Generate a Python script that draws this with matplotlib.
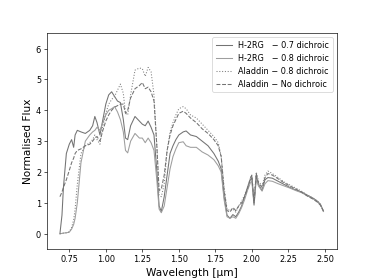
import numpy as np
import matplotlib
matplotlib.use("Agg")
import matplotlib.pyplot as plt

# wavelength grid (micron)
wl = [0.686, 0.70, 0.71, 0.73, 0.75, 0.766, 0.78, 0.79, 0.805, 0.83,
      0.86, 0.89, 0.91, 0.925, 0.94, 0.96, 0.98, 1.00, 1.02, 1.04,
      1.06, 1.08, 1.10, 1.12, 1.135, 1.15, 1.17, 1.20, 1.23, 1.25,
      1.27, 1.29, 1.31, 1.33, 1.35, 1.365, 1.38, 1.40, 1.42, 1.44,
      1.46, 1.48, 1.50, 1.53, 1.55, 1.58, 1.62, 1.66, 1.70, 1.74,
      1.77, 1.79, 1.81, 1.83, 1.85, 1.87, 1.89, 1.91, 1.93, 1.95,
      1.97, 1.99, 2.00, 2.015, 2.03, 2.045, 2.07, 2.09, 2.11, 2.14,
      2.18, 2.22, 2.26, 2.30, 2.34, 2.38, 2.42, 2.45, 2.47, 2.49]

h2rg_07 = [0.0, 0.6, 1.5, 2.6, 2.9, 3.05, 2.8, 3.2, 3.35, 3.3,
           3.25, 3.35, 3.5, 3.8, 3.6, 3.2, 3.7, 4.2, 4.5, 4.6,
           4.45, 4.3, 4.25, 3.7, 3.1, 3.05, 3.5, 3.8, 3.65, 3.55,
           3.5, 3.65, 3.45, 3.2, 2.0, 0.9, 0.72, 1.2, 1.9, 2.6,
           2.85, 3.05, 3.2, 3.3, 3.33, 3.2, 3.15, 3.0, 2.85, 2.6,
           2.35, 2.1, 1.2, 0.6, 0.5, 0.62, 0.55, 0.7, 0.9, 1.2,
           1.5, 1.75, 1.8, 0.95, 1.85, 1.6, 1.4, 1.75, 1.82, 1.8,
           1.7, 1.6, 1.5, 1.42, 1.35, 1.25, 1.15, 1.05, 0.95, 0.73]

h2rg_08 = [0.0, 0.01, 0.02, 0.03, 0.05, 0.15, 0.3, 0.5, 1.0, 2.3,
           3.0, 3.2, 3.3, 3.35, 3.45, 3.35, 3.6, 3.85, 4.0, 4.05,
           4.12, 3.95, 3.7, 3.3, 2.7, 2.62, 3.0, 3.25, 3.1, 3.1,
           2.95, 3.1, 2.95, 2.7, 1.7, 0.8, 0.68, 0.9, 1.5, 2.1,
           2.5, 2.75, 2.95, 2.98, 2.85, 2.8, 2.8, 2.65, 2.55, 2.4,
           2.2, 2.0, 1.1, 0.55, 0.5, 0.55, 0.5, 0.65, 0.85, 1.1,
           1.4, 1.65, 1.7, 0.92, 1.75, 1.55, 1.38, 1.62, 1.72, 1.7,
           1.62, 1.55, 1.48, 1.4, 1.33, 1.23, 1.13, 1.03, 0.93, 0.72]

aladdin_08 = [0.0, 0.01, 0.02, 0.03, 0.06, 0.2, 0.45, 0.8, 1.6, 2.6,
              2.85, 2.95, 3.05, 3.2, 3.05, 2.9, 3.5, 3.9, 4.2, 4.35,
              4.45, 4.65, 4.85, 4.55, 3.9, 3.85, 4.5, 5.3, 5.37, 5.35,
              5.1, 5.39, 5.25, 4.5, 2.8, 1.25, 1.2, 1.6, 2.7, 3.3,
              3.6, 3.85, 4.05, 4.12, 4.05, 3.85, 3.75, 3.55, 3.35, 3.15,
              2.95, 2.5, 1.5, 0.8, 0.75, 0.8, 0.7, 0.9, 1.05, 1.25,
              1.5, 1.8, 1.9, 1.05, 2.0, 1.7, 1.55, 1.9, 2.03, 1.95,
              1.82, 1.68, 1.58, 1.48, 1.38, 1.25, 1.15, 1.05, 0.95, 0.73]

aladdin_none = [1.2, 1.35, 1.5, 1.75, 2.05, 2.3, 2.45, 2.6, 2.7, 2.75,
                2.85, 2.9, 3.0, 3.1, 3.15, 3.0, 3.35, 3.65, 3.85, 4.0,
                4.1, 4.15, 4.2, 4.2, 3.9, 4.0, 4.4, 4.7, 4.8, 4.9,
                4.7, 4.75, 4.6, 4.3, 2.8, 1.4, 1.45, 1.9, 2.7, 3.2,
                3.5, 3.7, 3.9, 3.97, 3.9, 3.75, 3.6, 3.4, 3.25, 3.05,
                2.85, 2.5, 1.4, 0.75, 0.7, 0.85, 0.75, 0.9, 1.0, 1.2,
                1.45, 1.8, 1.9, 1.0, 1.95, 1.65, 1.5, 1.82, 1.95, 1.9,
                1.78, 1.65, 1.55, 1.45, 1.35, 1.22, 1.12, 1.02, 0.92, 0.74]

fig = plt.figure(figsize=(6.4, 4.8), dpi=374/6.4)
ax = fig.add_subplot(111)
ax.plot(wl, h2rg_07, color="0.45", lw=1.3, label="H-2RG   \u2212 0.7 dichroic")
ax.plot(wl, h2rg_08, color="0.62", lw=1.3, label="H-2RG   \u2212 0.8 dichroic")
ax.plot(wl, aladdin_08, color="0.5", lw=1.3, ls=":", label="Aladdin \u2212 0.8 dichroic")
ax.plot(wl, aladdin_none, color="0.45", lw=1.3, ls="--", label="Aladdin \u2212 No dichroic")
ax.set_ylim(-0.5, 6.5)
ax.set_xlabel("Wavelength [\u03bcm]", fontsize=13)
ax.set_ylabel("Normalised Flux", fontsize=13)
ax.legend(loc="upper right")
fig.savefig("out.png")
